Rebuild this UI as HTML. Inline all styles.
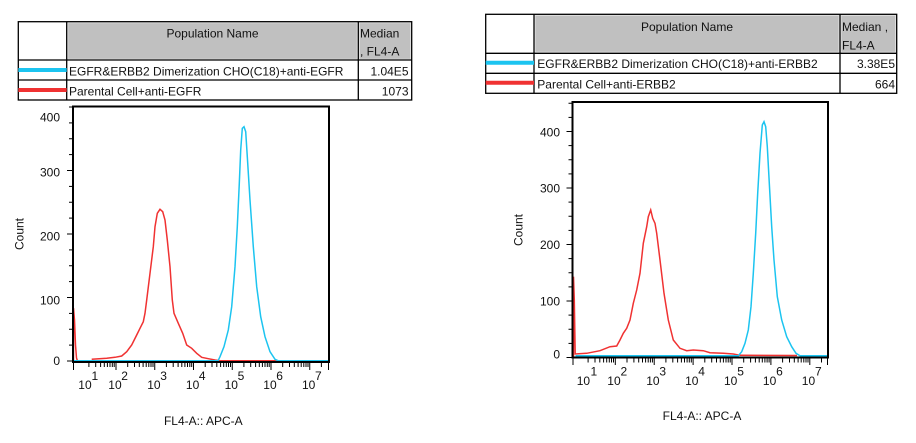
<!DOCTYPE html>
<html>
<head>
<meta charset="utf-8">
<style>
html,body{margin:0;padding:0;background:#fff;}
svg{display:block;}
text{font-family:"Liberation Sans",Arial,sans-serif;font-size:12px;fill:#111;}
</style>
</head>
<body>
<svg width="916" height="443" viewBox="0 0 916 443" xmlns="http://www.w3.org/2000/svg">
<rect x="0" y="0" width="916" height="443" fill="#fff"/>

<!-- ================= LEFT TABLE ================= -->
<g>
  <rect x="67.7" y="22.7" width="289.6" height="36.6" fill="#c0c0c0" stroke="#e4e4e4" stroke-width="1"/>
  <rect x="359.3" y="22.7" width="51.4" height="36.6" fill="#c0c0c0" stroke="#e4e4e4" stroke-width="1"/>
  <rect x="18.3" y="21.7" width="393.4" height="78.3" fill="none" stroke="#000" stroke-width="1.3"/>
  <line x1="66.7" y1="21.7" x2="66.7" y2="100" stroke="#000" stroke-width="1.3"/>
  <line x1="358.3" y1="21.7" x2="358.3" y2="100" stroke="#000" stroke-width="1.3"/>
  <line x1="18.3" y1="60" x2="411.7" y2="60" stroke="#000" stroke-width="1.3"/>
  <line x1="18.3" y1="80" x2="411.7" y2="80" stroke="#000" stroke-width="1.3"/>
  <line x1="18.3" y1="70" x2="66.7" y2="70" stroke="#1cc4f0" stroke-width="4"/>
  <line x1="18.3" y1="90" x2="66.7" y2="90" stroke="#f03232" stroke-width="4"/>
  <text x="212.5" y="37.5" text-anchor="middle">Population Name</text>
  <text x="360" y="37.5">Median</text>
  <text x="360" y="55.5">, FL4-A</text>
  <text x="69" y="75.3">EGFR&amp;ERBB2 Dimerization CHO(C18)+anti-EGFR</text>
  <text x="408.5" y="75.3" text-anchor="end">1.04E5</text>
  <text x="69" y="95.3">Parental Cell+anti-EGFR</text>
  <text x="408.5" y="95.3" text-anchor="end">1073</text>
</g>

<!-- ================= RIGHT TABLE ================= -->
<g>
  <rect x="535" y="15.3" width="304" height="37" fill="#c0c0c0" stroke="#e4e4e4" stroke-width="1"/>
  <rect x="841" y="15.3" width="54.7" height="37" fill="#c0c0c0" stroke="#e4e4e4" stroke-width="1"/>
  <rect x="485.7" y="14.3" width="411" height="79" fill="none" stroke="#000" stroke-width="1.3"/>
  <line x1="534" y1="14.3" x2="534" y2="93.3" stroke="#000" stroke-width="1.3"/>
  <line x1="840" y1="14.3" x2="840" y2="93.3" stroke="#000" stroke-width="1.3"/>
  <line x1="485.7" y1="53.3" x2="896.7" y2="53.3" stroke="#000" stroke-width="1.3"/>
  <line x1="485.7" y1="73.3" x2="896.7" y2="73.3" stroke="#000" stroke-width="1.3"/>
  <line x1="485.7" y1="62.7" x2="534" y2="62.7" stroke="#1cc4f0" stroke-width="4"/>
  <line x1="485.7" y1="82.7" x2="534" y2="82.7" stroke="#f03232" stroke-width="4"/>
  <text x="687" y="31" text-anchor="middle">Population Name</text>
  <text x="842" y="31">Median ,</text>
  <text x="842" y="49.3">FL4-A</text>
  <text x="537.3" y="68.2">EGFR&amp;ERBB2 Dimerization CHO(C18)+anti-ERBB2</text>
  <text x="895" y="68.2" text-anchor="end">3.38E5</text>
  <text x="537.3" y="88.5">Parental Cell+anti-ERBB2</text>
  <text x="895" y="88.5" text-anchor="end">664</text>
</g>

<!-- ================= LEFT PLOT ================= -->
<g>
  <!-- curves -->
  <path d="M73.5,361 L73.5,308 L74.5,320 L75.5,345 L76.5,358 L77.5,361 M91.7,359.3 L106.7,358.3 L115,357.3 L121.7,356 L126.7,351.7 L131.7,345 L136.7,335 L140,328.3 L143.3,321.7 L145,313.3 L146.7,300 L150,273.3 L153.3,246.7 L155,226.7 L157.3,213.3 L160,209.3 L162.7,211.7 L165,220 L167.3,240 L170,266.7 L172.3,300 L174,313.3 L178.3,323.3 L182.7,333.3 L186.7,345 L191.7,348.3 L196.7,353.3 L201.7,357.3 L208.3,358.7 L215,360 L220,360.7 L277,360.7" fill="none" stroke="#f03232" stroke-width="1.5"/>
  <path d="M73,360.8 L218,360.8 L220,356.7 L224,346.7 L228.3,330 L231.7,306.7 L235,266.7 L237.3,226.7 L239.3,183.3 L240.7,150 L242.3,128.3 L244,126.7 L245.7,131.7 L247.3,156.7 L250,200 L253.3,246.7 L256.7,286.7 L260.7,316.7 L265,336.7 L270,351.7 L275,359.3 L278.3,360.8 L329,360.8" fill="none" stroke="#1cc4f0" stroke-width="1.5"/>
  <!-- frame -->
  <rect x="73" y="106.5" width="256" height="255.5" fill="none" stroke="#000" stroke-width="2"/>
  <!-- y ticks -->
  <g stroke="#000" stroke-width="1">
    <line x1="67" y1="361" x2="72" y2="361"/>
    <line x1="69" y1="345.1" x2="72" y2="345.1"/>
    <line x1="69" y1="329.25" x2="72" y2="329.25"/>
    <line x1="69" y1="313.4" x2="72" y2="313.4"/>
    <line x1="67" y1="297.5" x2="72" y2="297.5"/>
    <line x1="69" y1="281.6" x2="72" y2="281.6"/>
    <line x1="69" y1="265.75" x2="72" y2="265.75"/>
    <line x1="69" y1="249.9" x2="72" y2="249.9"/>
    <line x1="67" y1="234" x2="72" y2="234"/>
    <line x1="69" y1="218.1" x2="72" y2="218.1"/>
    <line x1="69" y1="202.25" x2="72" y2="202.25"/>
    <line x1="69" y1="186.4" x2="72" y2="186.4"/>
    <line x1="67" y1="170.5" x2="72" y2="170.5"/>
    <line x1="69" y1="154.6" x2="72" y2="154.6"/>
    <line x1="69" y1="138.75" x2="72" y2="138.75"/>
    <line x1="69" y1="122.9" x2="72" y2="122.9"/>
    <line x1="69" y1="107" x2="72" y2="107"/>
  </g>
  <text x="60" y="364.8" text-anchor="end">0</text>
  <text x="60" y="304.3" text-anchor="end">100</text>
  <text x="60" y="240.3" text-anchor="end">200</text>
  <text x="60" y="176.7" text-anchor="end">300</text>
  <text x="60" y="121.3" text-anchor="end">400</text>
  <text transform="translate(23.3,234) rotate(-90)" text-anchor="middle">Count</text>
  <!-- x ticks -->
  <g stroke="#000" stroke-width="1">
    <line x1="73.5" y1="363" x2="73.5" y2="370"/>
    <line x1="116" y1="363" x2="116" y2="370"/>
    <line x1="154.75" y1="363" x2="154.75" y2="370"/>
    <line x1="193.5" y1="363" x2="193.5" y2="370"/>
    <line x1="232.25" y1="363" x2="232.25" y2="370"/>
    <line x1="271" y1="363" x2="271" y2="370"/>
    <line x1="309.75" y1="363" x2="309.75" y2="370"/>
    <line x1="328.5" y1="363" x2="328.5" y2="370"/>
    <path d="M88.9,363v4M95.7,363v4M100.6,363v4M104.3,363v4M107.4,363v4M110,363v4M112.3,363v4M114.2,363v4
             M127.7,363v4M134.5,363v4M139.3,363v4M143.1,363v4M146.2,363v4M148.8,363v4M151,363v4M153,363v4
             M166.4,363v4M173.2,363v4M178.1,363v4M181.8,363v4M184.9,363v4M187.5,363v4M189.8,363v4M191.7,363v4
             M205.2,363v4M212,363v4M216.8,363v4M220.6,363v4M223.7,363v4M226.3,363v4M228.5,363v4M230.5,363v4
             M243.9,363v4M250.7,363v4M255.6,363v4M259.3,363v4M262.4,363v4M265,363v4M267.3,363v4M269.2,363v4
             M282.7,363v4M289.5,363v4M294.3,363v4M298.1,363v4M301.2,363v4M303.8,363v4M306,363v4M308,363v4
             M321.4,363v4" fill="none"/>
  </g>
  <text x="78.3" y="389">10</text><text x="91.5" y="380">1</text>
  <text x="108.3" y="389">10</text><text x="121.3" y="380">2</text>
  <text x="147.2" y="389">10</text><text x="160.2" y="380">3</text>
  <text x="185.9" y="389">10</text><text x="198.9" y="380">4</text>
  <text x="224.6" y="389">10</text><text x="237.6" y="380">5</text>
  <text x="263.3" y="389">10</text><text x="276.3" y="380">6</text>
  <text x="302" y="389">10</text><text x="315" y="380">7</text>
  <text x="203.3" y="425" text-anchor="middle">FL4-A:: APC-A</text>
</g>

<!-- ================= RIGHT PLOT ================= -->
<g>
  <path d="M573.5,357 L573.5,276.7 L574.3,300 L574.8,330 L575.2,354 L586.7,353.3 L600,350.7 L610,346.7 L616.7,346 L620,340 L623.3,333.3 L626.7,328.3 L630,320 L633.3,303.3 L636.7,290 L640,273.3 L643.3,243.3 L646.7,226.7 L648.3,216.7 L650.7,210 L652.7,218.3 L655,223.3 L656.7,233.3 L660,260 L664,293.3 L668.3,320 L673.3,340 L680,348.3 L686.7,350.7 L693.3,350 L703.3,350.7 L710,352.7 L723.3,353.3 L733.3,354 L740,355.3 L797,355.5" fill="none" stroke="#f03232" stroke-width="1.5"/>
  <path d="M575.5,355.8 L738.3,355.8 L741.7,351.7 L745,343.3 L748.3,330 L751,306.7 L753.3,273.3 L755.7,233.3 L757.7,193.3 L760,153.3 L762.3,125 L764,121.7 L765.7,126.7 L767.3,146.7 L769.3,183.3 L771.7,226.7 L774,260 L777.3,296.7 L781.7,320 L786.7,336.7 L791.7,346.7 L796,353.3 L800,355.8 L828,355.8" fill="none" stroke="#1cc4f0" stroke-width="1.5"/>
  <rect x="572.5" y="102" width="255.5" height="255.5" fill="none" stroke="#000" stroke-width="2"/>
  <g stroke="#000" stroke-width="1">
    <line x1="566.5" y1="357.5" x2="571.5" y2="357.5"/>
    <line x1="568.5" y1="343.4" x2="571.5" y2="343.4"/>
    <line x1="568.5" y1="329.25" x2="571.5" y2="329.25"/>
    <line x1="568.5" y1="315.1" x2="571.5" y2="315.1"/>
    <line x1="566.5" y1="301" x2="571.5" y2="301"/>
    <line x1="568.5" y1="286.9" x2="571.5" y2="286.9"/>
    <line x1="568.5" y1="272.75" x2="571.5" y2="272.75"/>
    <line x1="568.5" y1="258.6" x2="571.5" y2="258.6"/>
    <line x1="566.5" y1="244.5" x2="571.5" y2="244.5"/>
    <line x1="568.5" y1="230.4" x2="571.5" y2="230.4"/>
    <line x1="568.5" y1="216.25" x2="571.5" y2="216.25"/>
    <line x1="568.5" y1="202.1" x2="571.5" y2="202.1"/>
    <line x1="566.5" y1="188" x2="571.5" y2="188"/>
    <line x1="568.5" y1="173.9" x2="571.5" y2="173.9"/>
    <line x1="568.5" y1="159.75" x2="571.5" y2="159.75"/>
    <line x1="568.5" y1="145.6" x2="571.5" y2="145.6"/>
    <line x1="566.5" y1="131.5" x2="571.5" y2="131.5"/>
    <line x1="568.5" y1="117.4" x2="571.5" y2="117.4"/>
    <line x1="568.5" y1="103.25" x2="571.5" y2="103.25"/>
  </g>
  <text x="560" y="358.5" text-anchor="end">0</text>
  <text x="560" y="305.6" text-anchor="end">100</text>
  <text x="560" y="249" text-anchor="end">200</text>
  <text x="560" y="192.3" text-anchor="end">300</text>
  <text x="560" y="136.3" text-anchor="end">400</text>
  <text transform="translate(522.5,230) rotate(-90)" text-anchor="middle">Count</text>
  <g stroke="#000" stroke-width="1">
    <line x1="573" y1="358.5" x2="573" y2="365"/>
    <line x1="615.3" y1="358.5" x2="615.3" y2="365"/>
    <line x1="654.2" y1="358.5" x2="654.2" y2="365"/>
    <line x1="693.1" y1="358.5" x2="693.1" y2="365"/>
    <line x1="732" y1="358.5" x2="732" y2="365"/>
    <line x1="770.9" y1="358.5" x2="770.9" y2="365"/>
    <line x1="809.8" y1="358.5" x2="809.8" y2="365"/>
    <line x1="827.5" y1="358.5" x2="827.5" y2="365"/>
    <path d="M588.1,358.5v4M595,358.5v4M599.8,358.5v4M603.6,358.5v4M606.7,358.5v4M609.3,358.5v4M611.5,358.5v4M613.5,358.5v4
             M627,358.5v4M633.9,358.5v4M638.7,358.5v4M642.5,358.5v4M645.6,358.5v4M648.2,358.5v4M650.4,358.5v4M652.4,358.5v4
             M665.9,358.5v4M672.8,358.5v4M677.6,358.5v4M681.4,358.5v4M684.5,358.5v4M687.1,358.5v4M689.3,358.5v4M691.3,358.5v4
             M704.8,358.5v4M711.7,358.5v4M716.5,358.5v4M720.3,358.5v4M723.4,358.5v4M726,358.5v4M728.2,358.5v4M730.2,358.5v4
             M743.7,358.5v4M750.6,358.5v4M755.4,358.5v4M759.2,358.5v4M762.3,358.5v4M764.9,358.5v4M767.1,358.5v4M769.1,358.5v4
             M782.6,358.5v4M789.5,358.5v4M794.3,358.5v4M798.1,358.5v4M801.2,358.5v4M803.8,358.5v4M806,358.5v4M808,358.5v4
             M821.5,358.5v4" fill="none"/>
  </g>
  <text x="576.7" y="385">10</text><text x="590.5" y="375.3">1</text>
  <text x="607.3" y="385">10</text><text x="620.5" y="375.3">2</text>
  <text x="646.2" y="385">10</text><text x="659.4" y="375.3">3</text>
  <text x="685.1" y="385">10</text><text x="698.3" y="375.3">4</text>
  <text x="724" y="385">10</text><text x="737.2" y="375.3">5</text>
  <text x="762.9" y="385">10</text><text x="776.1" y="375.3">6</text>
  <text x="801.8" y="385">10</text><text x="815" y="375.3">7</text>
  <text x="702" y="420" text-anchor="middle">FL4-A:: APC-A</text>
</g>
</svg>
</body>
</html>
